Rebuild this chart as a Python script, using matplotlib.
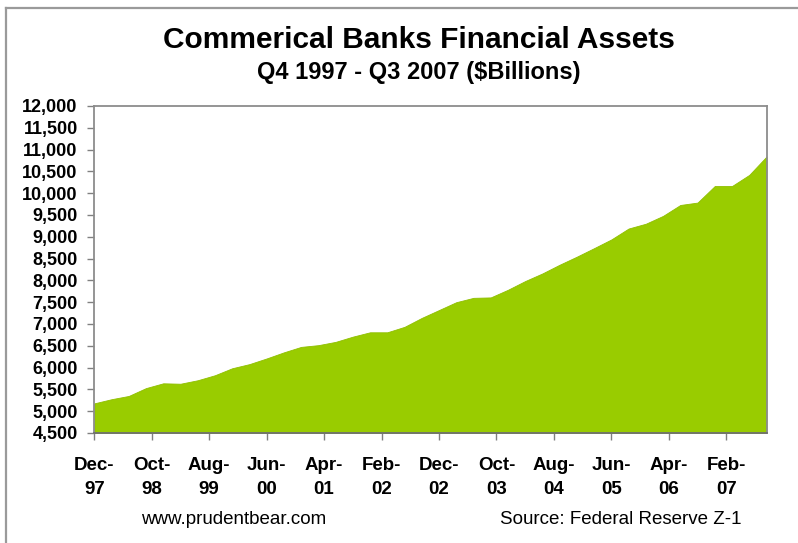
import matplotlib
matplotlib.use("Agg")
import matplotlib.pyplot as plt
from matplotlib.lines import Line2D
import numpy as np

# Quarterly financial assets, Q4 1997 .. Q3 2007 ($ billions)
quarters = [
    "Q4-97", "Q1-98", "Q2-98", "Q3-98", "Q4-98", "Q1-99", "Q2-99", "Q3-99",
    "Q4-99", "Q1-00", "Q2-00", "Q3-00", "Q4-00", "Q1-01", "Q2-01", "Q3-01",
    "Q4-01", "Q1-02", "Q2-02", "Q3-02", "Q4-02", "Q1-03", "Q2-03", "Q3-03",
    "Q4-03", "Q1-04", "Q2-04", "Q3-04", "Q4-04", "Q1-05", "Q2-05", "Q3-05",
    "Q4-05", "Q1-06", "Q2-06", "Q3-06", "Q4-06", "Q1-07", "Q2-07", "Q3-07",
]
assets = [
    5180, 5275, 5350, 5530, 5640, 5630, 5710, 5825,
    5985, 6080, 6210, 6350, 6475, 6515, 6590, 6710,
    6810, 6810, 6935, 7140, 7320, 7500, 7600, 7610,
    7785, 7985, 8160, 8360, 8545, 8740, 8940, 9190,
    9300, 9480, 9730, 9785, 10165, 10165, 10420, 10840,
]

# Date-axis tick labels, one every ten months starting Dec-97
tick_labels = ["Dec-\n97", "Oct-\n98", "Aug-\n99", "Jun-\n00", "Apr-\n01",
               "Feb-\n02", "Dec-\n02", "Oct-\n03", "Aug-\n04", "Jun-\n05",
               "Apr-\n06", "Feb-\n07"]
y_ticks = list(range(4500, 12001, 500))

# positions in months since Dec-1997
months = np.arange(len(assets)) * 3
tick_months = np.arange(len(tick_labels)) * 10

plt.rcParams["font.family"] = ["Liberation Sans", "DejaVu Sans"]

fig = plt.figure(figsize=(7.98, 5.43), dpi=100)
fig.patch.set_facecolor("white")

ax = fig.add_axes([94.3 / 798, 1 - 433 / 543, (766.5 - 94.3) / 798, (433 - 106) / 543])
ax.fill_between(months, assets, 4500, color="#99CC00", linewidth=0.6,
                edgecolor="#8FBF00")
ax.set_xlim(0, months[-1])
ax.set_ylim(4500, 12000)

ax.set_yticks(y_ticks)
ax.set_yticklabels([f"{v:,}" for v in y_ticks], fontsize=13, fontweight="bold")
ax.set_xticks(tick_months)
ax.set_xticklabels(tick_labels, fontsize=13.5, fontweight="bold", linespacing=1.55)

ax.tick_params(axis="y", direction="out", length=5, width=1, color="#808080",
               pad=7, labelcolor="black")
ax.tick_params(axis="x", direction="out", length=5, width=1, color="#808080",
               pad=12, labelcolor="black")

for side in ["left", "right", "top", "bottom"]:
    ax.spines[side].set_color("#8c8c8c")
    ax.spines[side].set_linewidth(1.3)
ax.spines["bottom"].set_color("#707070")

fig.text(419 / 798, 1 - 40 / 543, "Commerical Banks Financial Assets",
         ha="center", va="center", fontsize=21.5, fontweight="bold")
fig.text(419 / 798, 1 - 73 / 543, "Q4 1997 - Q3 2007 ($Billions)",
         ha="center", va="center", fontsize=17, fontweight="bold")

fig.text(234 / 798, 1 - 520 / 543, "www.prudentbear.com",
         ha="center", va="center", fontsize=13.5)
fig.text(621 / 798, 1 - 520 / 543, "Source: Federal Reserve Z-1",
         ha="center", va="center", fontsize=13.5)

# outer frame lines along the left and top edges
fig.add_artist(Line2D([6 / 798, 6 / 798], [0, 1 - 8 / 543],
                      transform=fig.transFigure, color="#9a9a9a", linewidth=1.6))
fig.add_artist(Line2D([6 / 798, 1], [1 - 8 / 543, 1 - 8 / 543],
                      transform=fig.transFigure, color="#9a9a9a", linewidth=1.6))

fig.savefig("out.png", dpi=100, facecolor="white")
